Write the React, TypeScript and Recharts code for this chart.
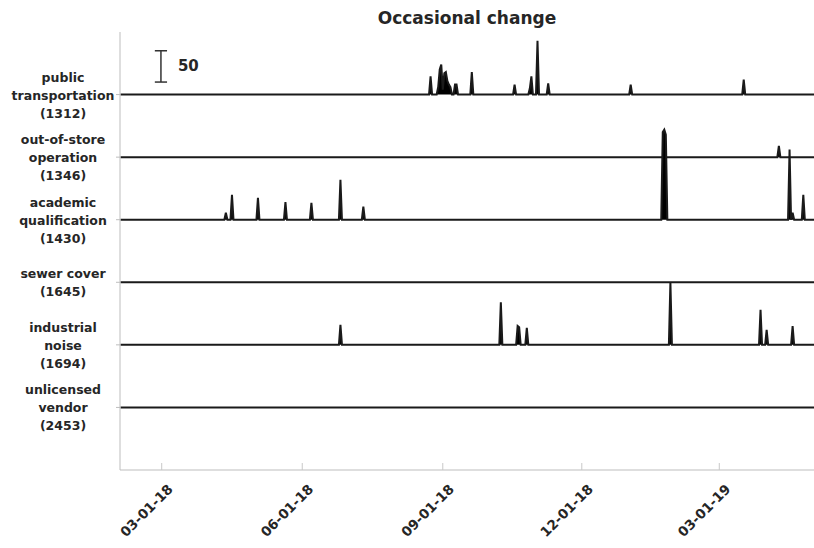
import React from 'react';
import { ComposedChart, Area, XAxis, YAxis, ReferenceLine } from 'recharts';

// ---------- data ----------
const TITLE = 'Occasional change';
const ORIGIN = '2018-03-01'; // day 0
const FIRST_DAY = -27;
const LAST_DAY = 427;

const tickDates = ['2018-03-01', '2018-06-01', '2018-09-01', '2018-12-01', '2019-03-01'];
const tickLabels = ['03-01-18', '06-01-18', '09-01-18', '12-01-18', '03-01-19'];

const seriesKeys = ['pt', 'oos', 'aq', 'sc', 'inoise', 'uv'];
const seriesLabels = [
  ['public', 'transportation', '(1312)'],
  ['out-of-store', 'operation', '(1346)'],
  ['academic', 'qualification', '(1430)'],
  ['sewer cover', '(1645)'],
  ['industrial', 'noise', '(1694)'],
  ['unlicensed', 'vendor', '(2453)'],
];
const seriesOffsets = [600, 500, 400, 300, 200, 100];

const publicTransportation: [string, number][] = [
  ['2018-08-24', 29], ['2018-08-29', 12], ['2018-08-30', 40], ['2018-08-31', 48],
  ['2018-09-01', 8], ['2018-09-02', 34], ['2018-09-03', 36], ['2018-09-04', 22],
  ['2018-09-05', 16], ['2018-09-06', 12], ['2018-09-09', 16], ['2018-09-10', 16],
  ['2018-09-20', 36], ['2018-10-18', 16], ['2018-10-28', 10], ['2018-10-29', 29],
  ['2018-11-02', 86], ['2018-11-09', 18], ['2019-01-02', 16], ['2019-03-17', 24],
];
const outOfStoreOperation: [string, number][] = [
  ['2019-04-09', 18],
];
const academicQualification: [string, number][] = [
  ['2018-04-12', 11], ['2018-04-16', 40], ['2018-05-03', 35], ['2018-05-21', 28],
  ['2018-06-07', 27], ['2018-06-26', 64], ['2018-07-11', 21],
  ['2019-01-23', 140], ['2019-01-24', 144], ['2019-01-25', 136],
  ['2019-04-16', 112], ['2019-04-18', 11], ['2019-04-25', 40],
];
const sewerCover: [string, number][] = [];
const industrialNoise: [string, number][] = [
  ['2018-06-26', 32], ['2018-10-09', 68], ['2018-10-20', 30], ['2018-10-21', 28],
  ['2018-10-26', 27], ['2019-01-28', 100], ['2019-03-28', 56], ['2019-04-01', 24],
  ['2019-04-18', 30],
];
const unlicensedVendor: [string, number][] = [];

const seriesEvents = [
  publicTransportation, outOfStoreOperation, academicQualification,
  sewerCover, industrialNoise, unlicensedVendor,
];

// scale bar annotation (value units)
const SCALE_BAR_VALUE = 50;
const SCALE_BAR_LOW = 620;
const SCALE_BAR_DAY = -0.5;
const SCALE_CAP_HALF = 4;

// ---------- helpers ----------
const toDay = (s: string) => {
  const [y, m, d] = s.split('-').map(Number);
  const [oy, om, od] = ORIGIN.split('-').map(Number);
  return Math.round((Date.UTC(y, m - 1, d) - Date.UTC(oy, om - 1, od)) / 86400000);
};

const tickDays = tickDates.map(toDay);

const rows: Record<string, number>[] = [];
const maps = seriesEvents.map((ev) => new Map(ev.map(([d, v]) => [toDay(d), v])));
for (let d = FIRST_DAY; d <= LAST_DAY; d++) {
  const row: Record<string, number> = { day: d };
  seriesKeys.forEach((k, i) => {
    row[k] = seriesOffsets[i] + (maps[i].get(d) ?? 0);
  });
  rows.push(row);
}

const FONT = '"DejaVu Sans", sans-serif';

const YTick = (props: any) => {
  const { x, y, payload } = props;
  const idx = seriesOffsets.indexOf(payload.value);
  if (idx < 0) return null;
  const lines = seriesLabels[idx];
  const n = lines.length;
  const cx = x - 53;
  return (
    <text x={cx} y={y} textAnchor="middle" fontFamily={FONT} fontWeight="bold" fontSize={12.5} fill="#262626">
      {lines.map((l, i) => (
        <tspan key={i} x={cx} y={y + 5 + (i - (n - 1) / 2) * 18}>{l}</tspan>
      ))}
    </text>
  );
};

const XTick = (props: any) => {
  const { x, y, payload } = props;
  const idx = tickDays.indexOf(payload.value);
  const label = idx >= 0 ? tickLabels[idx] : '';
  const px = x + 12;
  const py = y + 20;
  return (
    <g>
      <line x1={x} x2={x} y1={y - 7} y2={y} stroke="#c8c8c8" strokeWidth={1} />
      <text x={px} y={py} transform={`rotate(-45 ${px} ${py})`} textAnchor="end"
        fontFamily={FONT} fontWeight="bold" fontSize={13.5} fill="#262626">{label}</text>
    </g>
  );
};

const ScaleLabel = (props: any) => {
  const vb = props.viewBox || {};
  const x = (vb.x ?? 0) + 17;
  const y = (vb.y ?? 0) + (vb.height ?? 0) / 2;
  return (
    <text x={x} y={y} dominantBaseline="central" fontFamily={FONT} fontWeight="bold" fontSize={15} fill="#262626">
      {String(SCALE_BAR_VALUE)}
    </text>
  );
};

export default function App() {
  const W = 814;
  const H = 548;
  return (
    <div style={{ position: 'absolute', left: 0, top: 0, width: W, height: H, background: '#fff' }}>
      <div style={{
        position: 'absolute', left: 120, top: 7, width: 694, textAlign: 'center',
        fontFamily: FONT, fontWeight: 'bold', fontSize: 17, color: '#262626', lineHeight: '22px',
      }}>{TITLE}</div>
      <ComposedChart width={W} height={H} data={rows} margin={{ top: 32, right: 0, bottom: 0, left: 0 }}>
        <XAxis dataKey="day" type="number" domain={[-27.3, 427]} allowDataOverflow
          ticks={tickDays} interval={0} height={78} tickLine={false} tickSize={0} tickMargin={0}
          axisLine={{ stroke: '#bdbdbd' }} tick={<XTick />} />
        <YAxis type="number" domain={[0, 700]} allowDataOverflow ticks={seriesOffsets} interval={0}
          width={120} tickLine={{ stroke: '#bdbdbd' }} tickSize={4} tickMargin={0}
          axisLine={{ stroke: '#bdbdbd' }} tick={<YTick />} />
        {seriesKeys.map((k, i) => (
          <Area key={k} dataKey={k} type="linear" baseValue={seriesOffsets[i]}
            stroke="#1a1a1a" strokeWidth={2} fill="#000" fillOpacity={1}
            dot={false} activeDot={false} isAnimationActive={false} />
        ))}
        <ReferenceLine segment={[{ x: SCALE_BAR_DAY, y: SCALE_BAR_LOW }, { x: SCALE_BAR_DAY, y: SCALE_BAR_LOW + SCALE_BAR_VALUE }]}
          stroke="#333" strokeWidth={1.5} label={<ScaleLabel />} />
        <ReferenceLine segment={[{ x: SCALE_BAR_DAY - SCALE_CAP_HALF, y: SCALE_BAR_LOW }, { x: SCALE_BAR_DAY + SCALE_CAP_HALF, y: SCALE_BAR_LOW }]}
          stroke="#333" strokeWidth={1.5} />
        <ReferenceLine segment={[{ x: SCALE_BAR_DAY - SCALE_CAP_HALF, y: SCALE_BAR_LOW + SCALE_BAR_VALUE }, { x: SCALE_BAR_DAY + SCALE_CAP_HALF, y: SCALE_BAR_LOW + SCALE_BAR_VALUE }]}
          stroke="#333" strokeWidth={1.5} />
      </ComposedChart>
    </div>
  );
}
